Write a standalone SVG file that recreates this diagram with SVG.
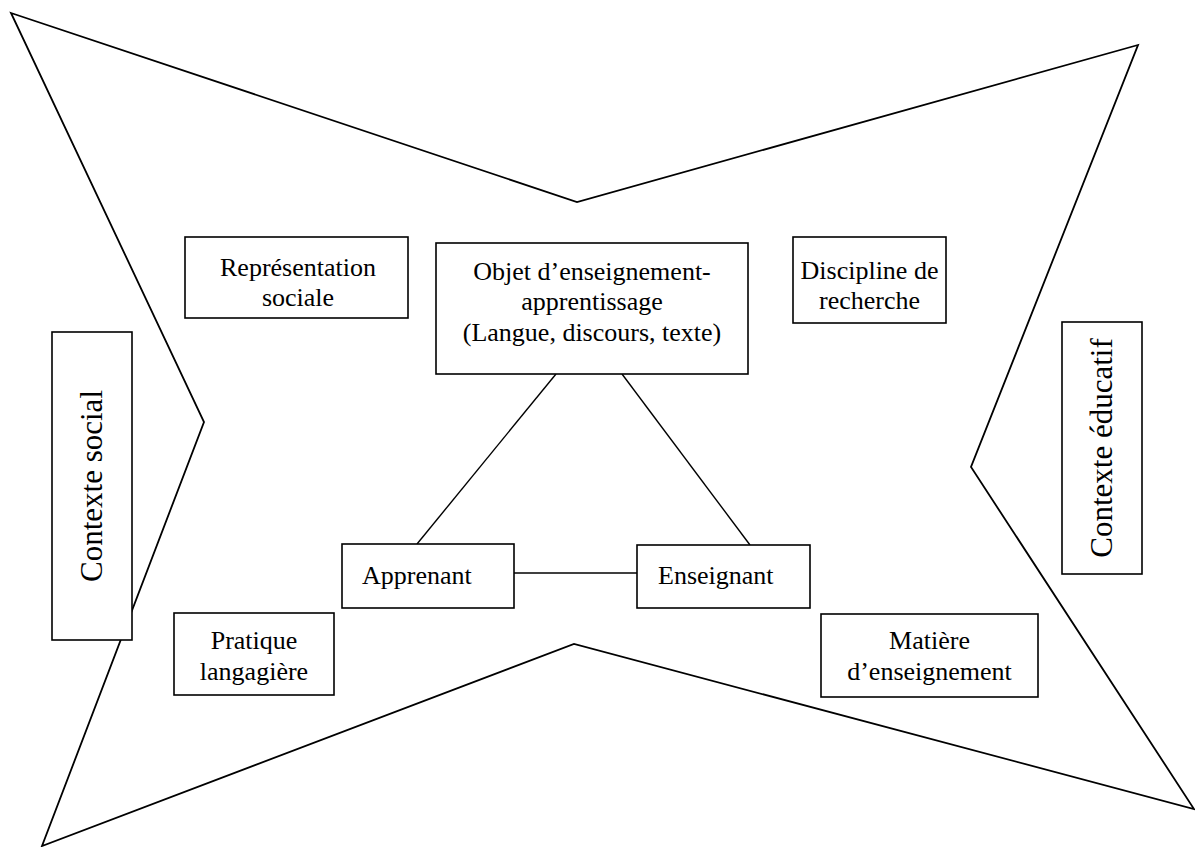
<svg xmlns="http://www.w3.org/2000/svg" width="1195" height="847" viewBox="0 0 1195 847">
<style>
.box{fill:#fff;stroke:#000;stroke-width:1.6}
.star{fill:none;stroke:#000;stroke-width:1.8;stroke-linejoin:miter}
.conn{stroke:#000;stroke-width:1.4;fill:none}
text{font-family:"Times New Roman",Tinos,"Liberation Serif","Noto Serif","DejaVu Serif",Times,serif;fill:#000;font-size:26px}
.c{text-anchor:middle}
.big{font-size:31px}
</style>
<rect width="1195" height="847" fill="#fff"/>
<g id="frame">
<polygon class="star" points="11,13 577,202 1138,45 971,467 1194,809 574,644 42,846 204,422"/>
</g>
<g id="connectors">
<line class="conn" x1="556" y1="374" x2="417" y2="544"/>
<line class="conn" x1="622" y1="374" x2="750" y2="545"/>
<line class="conn" x1="514" y1="573" x2="637" y2="573"/>
</g>
<g id="representation">
<rect class="box" x="185" y="237" width="223" height="81"/>
<text class="c" x="298" y="276">Représentation</text>
<text class="c" x="298" y="306">sociale</text>
</g>
<g id="objet">
<rect class="box" x="436" y="243" width="312" height="131"/>
<text class="c" x="592" y="280">Objet d’enseignement-</text>
<text class="c" x="592" y="310">apprentissage</text>
<text class="c" x="592" y="341">(Langue, discours, texte)</text>
</g>
<g id="discipline">
<rect class="box" x="793" y="237" width="153" height="86"/>
<text class="c" x="869.5" y="279">Discipline de</text>
<text class="c" x="869.5" y="309">recherche</text>
</g>
<g id="contexte-social">
<rect class="box" x="52" y="332" width="80" height="308"/>
<text class="c big" transform="translate(102,486) rotate(-90)">Contexte social</text>
</g>
<g id="contexte-educatif">
<rect class="box" x="1062" y="322" width="80" height="252"/>
<text class="c big" transform="translate(1112,448) rotate(-90)">Contexte éducatif</text>
</g>
<g id="apprenant">
<rect class="box" x="342" y="544" width="172" height="64"/>
<text x="362" y="584">Apprenant</text>
</g>
<g id="enseignant">
<rect class="box" x="637" y="545" width="173" height="63"/>
<text x="658" y="584">Enseignant</text>
</g>
<g id="pratique">
<rect class="box" x="174" y="613" width="160" height="82"/>
<text class="c" x="254" y="649">Pratique</text>
<text class="c" x="254" y="680">langagière</text>
</g>
<g id="matiere">
<rect class="box" x="821" y="614" width="217" height="83"/>
<text class="c" x="929.5" y="649">Matière</text>
<text class="c" x="929.5" y="680">d’enseignement</text>
</g>
</svg>
